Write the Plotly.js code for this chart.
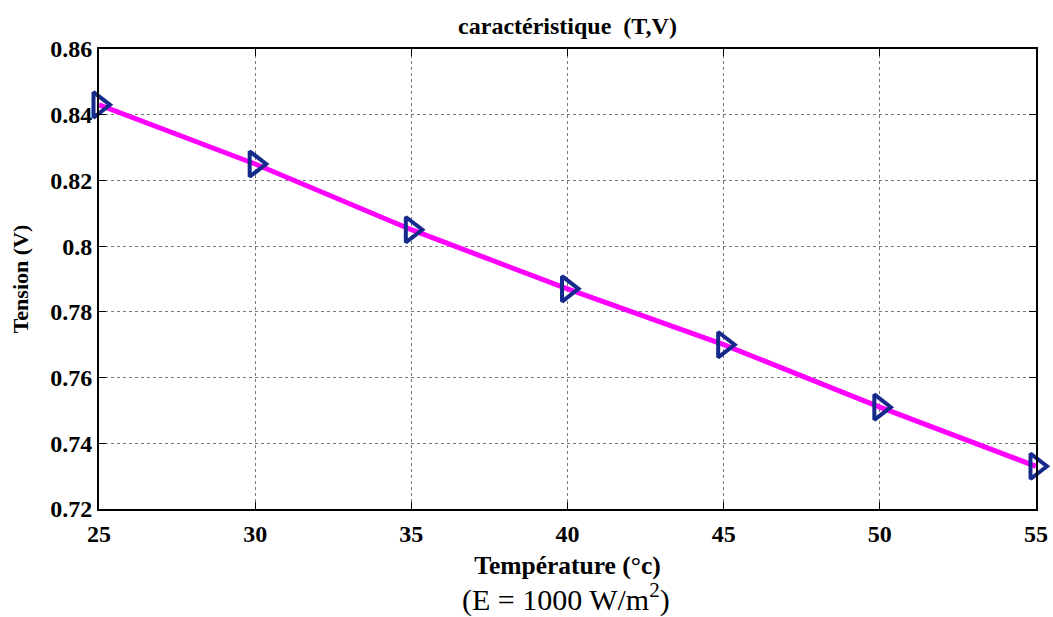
<!DOCTYPE html>
<html><head><meta charset="utf-8">
<script src="https://cdn.plot.ly/plotly-3.0.1.min.js"></script>
<style>body{margin:0;background:#fff}#c{width:1053px;height:617px}</style>
</head><body><div id="c"></div>
<script>
const temperature = [25, 30, 35, 40, 45, 50, 55];
const tension = [0.843, 0.825, 0.805, 0.787, 0.770, 0.751, 0.733];
const xTicks = [25, 30, 35, 40, 45, 50, 55];
const yTicks = [0.72, 0.74, 0.76, 0.78, 0.8, 0.82, 0.84, 0.86];
const yTickText = ['0.72', '0.74', '0.76', '0.78', '0.8', '0.82', '0.84', '0.86'];

const font = 'Liberation Serif, Times New Roman, serif';
const trace = {
  x: temperature, y: tension, mode: 'lines+markers', type: 'scatter',
  line: {color: '#ff00ff', width: 5},
  marker: {symbol: 'triangle-right-open', size: 22, color: '#162a8c', line: {width: 4, color: '#162a8c'}},
  showlegend: false, cliponaxis: false
};
const axisBase = {
  showline: true, linecolor: '#000', linewidth: 2, mirror: 'ticks',
  ticks: 'inside', ticklen: 7, tickcolor: '#000', tickwidth: 1,
  showgrid: true, gridcolor: '#777', griddash: 'dot', gridwidth: 1,
  zeroline: false, tickfont: {family: font, size: 24, color: '#000', weight: 'bold'}
};
const layout = {
  width: 1053, height: 617,
  margin: {l: 99, r: 17, t: 49, b: 108},
  paper_bgcolor: '#fff', plot_bgcolor: '#fff',
  title: {text: '<b>caractéristique  (T,V)</b>', font: {family: font, size: 24, color: '#000'}, x: 0.5, xanchor: 'center', y: 0.958, yanchor: 'middle', xref: 'paper'},
  xaxis: Object.assign({}, axisBase, {range: [25, 55], tickvals: xTicks, ticktext: xTicks.map(String), ticklabelstandoff: 2,
    title: {text: '<b>Température (°c)</b>', font: {family: font, size: 25.5, color: '#000'}, standoff: 10}}),
  yaxis: Object.assign({}, axisBase, {range: [0.72, 0.86], tickvals: yTicks, ticktext: yTickText,
    title: {text: '<b>Tension (V)</b>', font: {family: font, size: 22, color: '#000'}, standoff: 16}}),
  annotations: [{text: '(E = 1000 W/m<sup>2</sup>)', xref: 'paper', yref: 'paper', x: 0.498, y: -0.145, xanchor: 'center', yanchor: 'top', showarrow: false, font: {family: font, size: 30, color: '#000'}}]
};
Plotly.newPlot('c', [trace], layout, {displayModeBar: false, staticPlot: true});
</script></body></html>
